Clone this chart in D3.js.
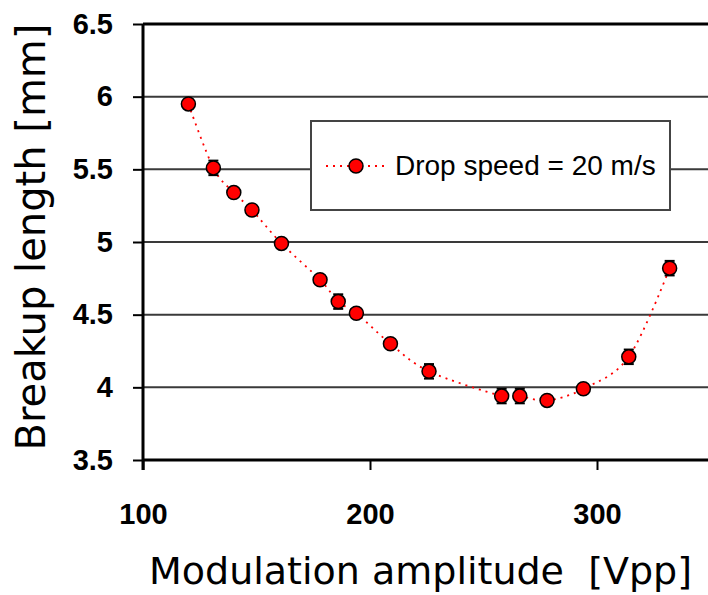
<!DOCTYPE html>
<html lang="en">

<head>
    <meta charset="UTF-8">
    <title>Breakup length vs modulation amplitude</title>
    <style>
        body {
            margin: 0;
            background: #fff;
            overflow: hidden;
        }
    </style>
</head>

<body>
    <div id="container"></div>

    <script type="text/javascript" src="https://d3js.org/d3.v7.min.js"></script>
    <script type="text/javascript">
        // Values.
        var amplitude = [120, 131, 140, 148, 161, 178, 186, 194, 209, 226, 258, 266, 278, 294, 314, 332];
        var breakup = [5.95, 5.51, 5.34, 5.22, 4.99, 4.74, 4.59, 4.51, 4.30, 4.11, 3.94, 3.94, 3.91, 3.99, 4.21, 4.82];
        var errors = [0.02, 0.05, 0.02, 0.02, 0.02, 0.02, 0.05, 0.02, 0.02, 0.05, 0.05, 0.05, 0.02, 0.02, 0.05, 0.05];
        var xTicks = [100, 200, 300];
        var yTicks = [3.5, 4, 4.5, 5, 5.5, 6, 6.5];
        var seriesName = "Drop speed = 20 m/s";

        var points = amplitude.map(function (a, i) {
            return { x: a, y: breakup[i], e: errors[i] };
        });

        var width = 708, height = 595;
        var plotLeft = 143, plotTop = 24, plotBottom = 460;

        var svg = d3.select("#container")
            .append("svg")
            .attr("width", width)
            .attr("height", height);

        var x = d3.scaleLinear().domain([100, 350]).range([plotLeft, plotLeft + 250 * 2.27]);
        var y = d3.scaleLinear().domain([3.5, 6.5]).range([plotBottom, plotTop]);

        // Horizontal grid lines.
        svg.append("g")
            .selectAll("line")
            .data(yTicks.slice(1))
            .enter()
            .append("line")
            .attr("x1", plotLeft)
            .attr("x2", width)
            .attr("y1", function (d) { return y(d); })
            .attr("y2", function (d) { return y(d); })
            .attr("stroke", function (d) { return d === 6.5 ? "#000" : "#3a3a3a"; })
            .attr("stroke-width", function (d) { return d === 6.5 ? 3 : 2; });

        // Y axis
        var yAxis = svg.append("g")
            .attr("transform", "translate(" + plotLeft + ",0)")
            .call(d3.axisLeft(y).tickValues(yTicks).tickSize(10).tickPadding(20).tickFormat(d3.format("~g")));
        yAxis.select(".domain").attr("stroke-width", 3).attr("d", "M0," + plotTop + "V" + (plotBottom + 10));
        yAxis.selectAll(".tick line").attr("stroke-width", 2);
        yAxis.selectAll("text")
            .attr("font-family", "Liberation Sans, Arial, sans-serif")
            .attr("font-weight", "bold")
            .attr("font-size", 29)
            .attr("fill", "#000");

        // X axis
        var xAxis = svg.append("g")
            .attr("transform", "translate(0," + plotBottom + ")")
            .call(d3.axisBottom(x).tickValues(xTicks).tickSize(10).tickPadding(33));
        xAxis.select(".domain").attr("stroke-width", 3).attr("d", "M" + plotLeft + ",0H" + width);
        xAxis.selectAll(".tick line").attr("stroke-width", 2);
        xAxis.selectAll("text")
            .attr("font-family", "Liberation Sans, Arial, sans-serif")
            .attr("font-weight", "bold")
            .attr("font-size", 29)
            .attr("fill", "#000");

        // Axis titles
        svg.append("text")
            .attr("transform", "translate(45,237) rotate(-90)")
            .attr("text-anchor", "middle")
            .attr("font-family", "DejaVu Sans, Verdana, sans-serif")
            .attr("font-size", 40)
            .text("Breakup length [mm]");

        svg.append("text")
            .attr("x", 149)
            .attr("y", 584)
            .attr("font-family", "DejaVu Sans, Verdana, sans-serif")
            .attr("font-size", 38)
            .attr("xml:space", "preserve")
            .style("white-space", "pre")
            .text("Modulation amplitude  [Vpp]");

        // Smoothed dotted line through the points.
        var line = d3.line()
            .x(function (d) { return x(d.x); })
            .y(function (d) { return y(d.y); })
            .curve(d3.curveCardinal.tension(0));

        svg.append("path")
            .datum(points)
            .attr("d", line)
            .attr("fill", "none")
            .attr("stroke", "#ff0000")
            .attr("stroke-width", 1.8)
            .attr("stroke-dasharray", "2,5");

        // Error bars
        var bars = svg.append("g").selectAll("g")
            .data(points)
            .enter()
            .append("g")
            .attr("stroke", "#000")
            .attr("stroke-width", 2);
        bars.append("line")
            .attr("x1", function (d) { return x(d.x); })
            .attr("x2", function (d) { return x(d.x); })
            .attr("y1", function (d) { return y(d.y - d.e); })
            .attr("y2", function (d) { return y(d.y + d.e); });
        bars.append("line")
            .attr("x1", function (d) { return x(d.x) - 5; })
            .attr("x2", function (d) { return x(d.x) + 5; })
            .attr("y1", function (d) { return y(d.y - d.e); })
            .attr("y2", function (d) { return y(d.y - d.e); });
        bars.append("line")
            .attr("x1", function (d) { return x(d.x) - 5; })
            .attr("x2", function (d) { return x(d.x) + 5; })
            .attr("y1", function (d) { return y(d.y + d.e); })
            .attr("y2", function (d) { return y(d.y + d.e); });

        // Markers
        svg.append("g").selectAll("circle")
            .data(points)
            .enter()
            .append("circle")
            .attr("cx", function (d) { return x(d.x); })
            .attr("cy", function (d) { return y(d.y); })
            .attr("r", 7)
            .attr("fill", "#ff0000")
            .attr("stroke", "#000")
            .attr("stroke-width", 1.5);

        // Legend box
        var legend = svg.append("g").attr("transform", "translate(311,121)");
        legend.append("rect")
            .attr("width", 359)
            .attr("height", 89)
            .attr("fill", "#fff")
            .attr("stroke", "#444")
            .attr("stroke-width", 2);
        legend.append("line")
            .attr("x1", 15)
            .attr("x2", 75)
            .attr("y1", 45)
            .attr("y2", 45)
            .attr("stroke", "#ff0000")
            .attr("stroke-width", 1.8)
            .attr("stroke-dasharray", "2,5");
        legend.append("circle")
            .attr("cx", 45)
            .attr("cy", 45)
            .attr("r", 7)
            .attr("fill", "#ff0000")
            .attr("stroke", "#000")
            .attr("stroke-width", 1.5);
        legend.append("text")
            .attr("x", 84)
            .attr("y", 54)
            .attr("font-family", "Liberation Sans, Arial, sans-serif")
            .attr("font-size", 28)
            .text(seriesName);
    </script>
</body>

</html>
